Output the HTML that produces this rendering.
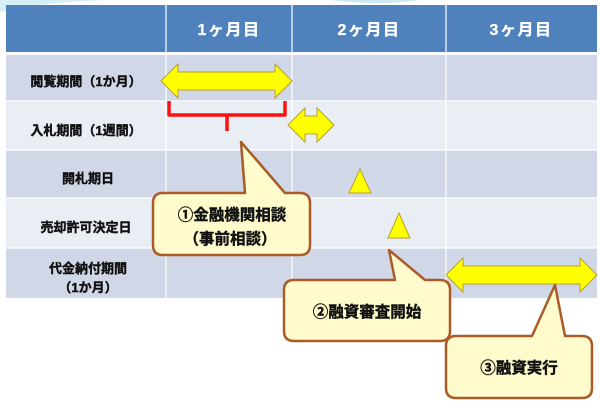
<!DOCTYPE html>
<html><head><meta charset="utf-8"><style>
body{margin:0;background:#fff}
svg{display:block}
text{font-family:"Liberation Sans","Noto Sans CJK JP",sans-serif;font-weight:bold}
</style></head><body>
<svg width="600" height="412" viewBox="0 0 600 412" xmlns="http://www.w3.org/2000/svg">
<path d="M0,0 L0,12 Q40,2 110,0 Z" fill="#d6eef6"/>
<path d="M330,0 Q380,6 420,0 Z" fill="#cdeaf3"/>
<rect x="6" y="5" width="591" height="48" fill="#4F81BD"/>
<rect x="6" y="54" width="591" height="47" fill="#D0D8E8"/>
<rect x="6" y="101" width="591" height="49" fill="#E9EDF4"/>
<rect x="6" y="150" width="591" height="48" fill="#D0D8E8"/>
<rect x="6" y="198" width="591" height="50" fill="#E9EDF4"/>
<rect x="6" y="248" width="591" height="50" fill="#D0D8E8"/>
<g stroke="#fff" stroke-width="1.2">
<line x1="6" y1="101" x2="597" y2="101"/><line x1="6" y1="150" x2="597" y2="150"/>
<line x1="6" y1="198" x2="597" y2="198"/><line x1="6" y1="248" x2="597" y2="248"/>
<line x1="166" y1="5" x2="166" y2="298"/><line x1="292" y1="5" x2="292" y2="298"/><line x1="446" y1="5" x2="446" y2="298"/>
</g>
<rect x="6" y="52" width="591" height="3" fill="#fff"/>
<g fill="#fff" font-size="16" text-anchor="middle" letter-spacing="1.5" stroke="#fff" stroke-width="0.3">
<text x="229" y="35">1ヶ月目</text><text x="369" y="35">2ヶ月目</text><text x="521" y="35">3ヶ月目</text>
</g>
<g fill="#111" font-size="13" text-anchor="middle" stroke="#111" stroke-width="0.4">
<text x="86" y="86">閲覧期間（1か月）</text>
<text x="86" y="135">入札期間（1週間）</text>
<text x="88" y="183">開札期日</text>
<text x="86" y="232">売却許可決定日</text>
<text x="88" y="273">代金納付期間</text>
<text x="88" y="292">（1か月）</text>
</g>
<g fill="#FFFF00" stroke="#B8A030" stroke-width="1">
<path d="M161,81 L178,64 L178,72 L275,72 L275,64 L292,81 L275,98 L275,90 L178,90 L178,98 Z"/>
<path d="M288,125 L305,108 L305,116 L317,116 L317,108 L334,125 L317,142 L317,134 L305,134 L305,142 Z"/>
<path d="M446,275 L463,258 L463,266 L580,266 L580,258 L597,275 L580,292 L580,284 L463,284 L463,292 Z"/>
<path d="M360,169 L371,193 L349,193 Z"/>
<path d="M399,213 L410,238 L388,238 Z"/>
</g>
<path d="M169,101 L169,115 L227,115 L227,131 M227,115 L285,115 L285,101" fill="none" stroke="#FF1010" stroke-width="3.5" stroke-linejoin="round"/>
<g fill="#FFFBCC" stroke="#A95B28" stroke-width="2.5" stroke-linejoin="round">
<path d="M163,193 L245,193 L241,142 L285,193 L300,193 Q310,193 310,203 L310,245 Q310,255 300,255 L163,255 Q153,255 153,245 L153,203 Q153,193 163,193 Z"/>
<path d="M294,280 L395,280 L389,250 L425,280 L440,280 Q450,280 450,290 L450,331 Q450,341 440,341 L294,341 Q284,341 284,331 L284,290 Q284,280 294,280 Z"/>
<path d="M456,336 L532,336 L555,285 L565,336 L582,336 Q592,336 592,346 L592,388 Q592,398 582,398 L456,398 Q446,398 446,388 L446,346 Q446,336 456,336 Z"/>
</g>
<g fill="#111" font-size="15.5" text-anchor="middle" stroke="#111" stroke-width="0.4">
<text x="232" y="220">①金融機関相談</text>
<text x="230" y="244">（事前相談）</text>
<text x="367" y="317">②融資審査開始</text>
<text x="519" y="373">③融資実行</text>
</g>
</svg>
</body></html>
